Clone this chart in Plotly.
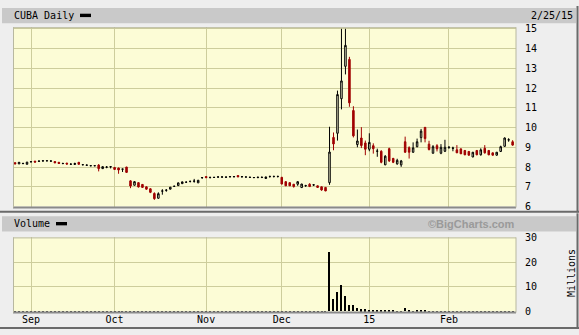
import pandas as pd
import plotly.graph_objects as go

# ---------------- data ----------------
holidays = ["2014-09-01", "2014-11-27", "2014-12-25", "2015-01-01", "2015-01-19", "2015-02-16"]
dates = [d.strftime("%Y-%m-%d") for d in pd.bdate_range("2014-08-26", "2015-02-25")
         if d.strftime("%Y-%m-%d") not in holidays]

open_ = [8.22, 8.16, 8.17, 8.14, 8.26, 8.30, 8.29, 8.31, 8.31, 8.30,
         8.28, 8.24, 8.17, 8.20, 8.14, 8.13, 8.24, 8.11, 8.09, 8.06,
         8.06, 8.10, 7.92, 7.99, 8.01, 7.98, 7.95, 7.89, 8.00, 7.30,
         7.08, 7.21, 7.12, 7.00, 6.90, 6.66, 6.42, 6.78, 6.82, 6.88,
         7.02, 7.06, 7.16, 7.23, 7.27, 7.28, 7.20, 7.46, 7.52, 7.47,
         7.47, 7.49, 7.49, 7.48, 7.51, 7.51, 7.57, 7.51, 7.49, 7.47,
         7.46, 7.46, 7.47, 7.42, 7.52, 7.52, 7.52, 7.48, 7.26, 7.21,
         7.13, 7.13, 6.96, 7.05, 7.13, 7.09, 7.05, 7.00, 6.97, 7.21,
         9.50, 9.71, 11.46, 13.10, 13.45, 10.86, 9.14, 9.47, 9.22, 8.90,
         9.08, 8.80, 8.80, 8.11, 8.93, 8.44, 8.16, 8.11, 9.28, 8.98,
         8.75, 9.03, 9.49, 10.01, 9.16, 8.70, 9.08, 8.70, 8.80, 9.00,
         8.95, 8.87, 8.92, 8.84, 8.79, 8.51, 8.84, 8.62, 8.95, 8.84,
         8.72, 8.60, 8.79, 9.05, 9.37, 9.28]
high = [8.24, 8.25, 8.22, 8.26, 8.28, 8.31, 8.33, 8.32, 8.32, 8.31,
        8.29, 8.25, 8.22, 8.21, 8.18, 8.22, 8.25, 8.12, 8.12, 8.07,
        8.07, 8.15, 8.03, 8.05, 8.02, 7.99, 7.97, 7.90, 8.01, 7.33,
        7.28, 7.23, 7.14, 7.02, 6.92, 6.72, 6.72, 6.88, 6.88, 6.99,
        7.04, 7.21, 7.26, 7.25, 7.28, 7.40, 7.35, 7.47, 7.53, 7.48,
        7.48, 7.53, 7.53, 7.53, 7.52, 7.52, 7.58, 7.52, 7.50, 7.52,
        7.47, 7.52, 7.52, 7.51, 7.53, 7.53, 7.53, 7.50, 7.27, 7.22,
        7.14, 7.27, 7.15, 7.10, 7.18, 7.14, 7.06, 7.01, 6.98, 10.04,
        9.75, 11.87, 15.00, 15.00, 13.58, 11.08, 9.90, 10.02, 9.34, 9.71,
        9.20, 8.93, 8.85, 8.60, 8.98, 8.46, 8.42, 8.36, 9.54, 9.05,
        9.25, 9.44, 9.93, 10.02, 9.33, 9.11, 9.16, 9.16, 9.38, 9.01,
        9.03, 9.11, 8.93, 8.85, 8.80, 8.76, 8.85, 8.95, 9.11, 8.85,
        8.73, 8.76, 9.08, 9.50, 9.46, 9.36]
low = [8.14, 8.15, 8.17, 8.13, 8.25, 8.24, 8.27, 8.27, 8.30, 8.26,
       8.20, 8.17, 8.16, 8.14, 8.11, 8.11, 8.13, 8.10, 8.06, 8.05,
       8.05, 7.78, 7.91, 7.94, 7.93, 7.87, 7.66, 7.75, 7.72, 6.93,
       7.06, 6.97, 6.95, 6.85, 6.68, 6.34, 6.40, 6.60, 6.75, 6.87,
       7.00, 7.05, 7.15, 7.20, 7.22, 7.21, 7.19, 7.40, 7.45, 7.42,
       7.46, 7.46, 7.46, 7.47, 7.46, 7.47, 7.49, 7.45, 7.48, 7.46,
       7.45, 7.45, 7.44, 7.41, 7.46, 7.47, 7.47, 7.13, 7.04, 7.04,
       6.96, 7.05, 6.95, 7.00, 7.00, 7.04, 6.96, 6.80, 6.78, 7.10,
       8.85, 9.34, 10.92, 12.69, 11.05, 9.50, 9.00, 8.96, 8.60, 8.80,
       8.68, 8.52, 8.19, 8.10, 8.26, 8.20, 8.12, 8.01, 8.72, 8.43,
       8.72, 9.00, 9.25, 9.25, 8.84, 8.68, 8.79, 8.65, 8.76, 8.92,
       8.80, 8.71, 8.66, 8.60, 8.58, 8.50, 8.60, 8.58, 8.68, 8.60,
       8.58, 8.58, 8.76, 9.03, 9.28, 9.08]
close = [8.16, 8.24, 8.18, 8.25, 8.27, 8.25, 8.30, 8.32, 8.32, 8.31,
         8.21, 8.18, 8.18, 8.15, 8.15, 8.18, 8.14, 8.12, 8.10, 8.07,
         8.07, 7.92, 8.02, 8.00, 8.02, 7.88, 7.85, 7.90, 7.73, 7.04,
         7.26, 6.99, 6.97, 6.88, 6.72, 6.40, 6.65, 6.79, 6.83, 6.98,
         7.03, 7.20, 7.25, 7.24, 7.28, 7.29, 7.33, 7.47, 7.46, 7.48,
         7.48, 7.50, 7.50, 7.49, 7.52, 7.52, 7.50, 7.52, 7.50, 7.48,
         7.47, 7.48, 7.48, 7.50, 7.53, 7.53, 7.53, 7.14, 7.05, 7.05,
         7.01, 7.26, 7.14, 7.06, 7.01, 7.10, 6.97, 6.84, 6.79, 8.76,
         9.17, 11.67, 12.36, 14.16, 11.25, 9.58, 9.32, 9.09, 8.90, 9.25,
         8.93, 8.81, 8.24, 8.55, 8.31, 8.24, 8.34, 8.31, 8.75, 8.75,
         8.97, 9.28, 9.82, 9.44, 8.89, 9.03, 8.92, 9.00, 9.00, 9.01,
         8.96, 8.72, 8.67, 8.62, 8.60, 8.75, 8.62, 8.87, 8.72, 8.62,
         8.60, 8.75, 9.03, 9.47, 9.38, 9.11]
volume_m = [0.03, 0.03, 0.03, 0.03, 0.03, 0.03, 0.03, 0.03, 0.03, 0.03,
            0.03, 0.03, 0.03, 0.03, 0.03, 0.03, 0.03, 0.03, 0.03, 0.03,
            0.03, 0.03, 0.03, 0.03, 0.03, 0.03, 0.03, 0.03, 0.03, 0.03,
            0.03, 0.03, 0.03, 0.03, 0.03, 0.03, 0.03, 0.03, 0.03, 0.03,
            0.03, 0.03, 0.03, 0.03, 0.03, 0.03, 0.03, 0.03, 0.03, 0.03,
            0.03, 0.03, 0.03, 0.03, 0.03, 0.03, 0.03, 0.03, 0.03, 0.03,
            0.03, 0.03, 0.03, 0.03, 0.03, 0.03, 0.03, 0.03, 0.03, 0.03,
            0.03, 0.03, 0.03, 0.03, 0.03, 0.03, 0.03, 0.03, 0.03, 24.0,
            4.9, 7.6, 10.8, 6.2, 2.4, 2.4, 1.4, 0.8, 0.8, 0.6,
            0.4, 0.4, 0.4, 0.4, 0.4, 0.4, 0.05, 0.05, 1.4, 0.4,
            0.05, 0.5, 0.5, 0.3, 0.05, 0.05, 0.05, 0.05, 0.05, 0.05,
            0.05, 0.05, 0.05, 0.05, 0.05, 0.05, 0.05, 0.05, 0.05, 0.05,
            0.05, 0.05, 0.05, 0.05, 0.05, 0.05]

month_ticks = ["2014-09-02", "2014-10-01", "2014-11-03", "2014-12-01", "2015-01-02", "2015-02-02"]
month_labels = ["Sep", "Oct", "Nov", "Dec", "15", "Feb"]
price_ticks = [6, 7, 8, 9, 10, 11, 12, 13, 14, 15]
vol_ticks = [0, 10, 20, 30]

# ---------------- style ----------------
W, H = 579, 335
BG = "#eeeeee"
PLOT_BG = "#fcfcd6"
GRID = "#cdcd9c"
RED = "#a00000"
MONO = "DejaVu Sans Mono"

def px(x):
    return x / W

def py(y):
    return 1 - y / H

fig = go.Figure()
fig.add_trace(go.Candlestick(
    x=dates, open=open_, high=high, low=low, close=close,
    xaxis="x", yaxis="y",
    increasing=dict(line=dict(color="black", width=1), fillcolor=PLOT_BG),
    decreasing=dict(line=dict(color=RED, width=1), fillcolor=RED),
    whiskerwidth=0, hoverinfo="skip", showlegend=False,
))
fig.add_trace(go.Bar(
    x=dates, y=volume_m, xaxis="x2", yaxis="y2",
    marker=dict(color="black", line=dict(width=0)), width=0.28,
    hoverinfo="skip", showlegend=False,
))

xrange = [-0.27, len(dates) - 1 + 0.85]
xl, xr = px(14), px(516)
common_x = dict(type="category", range=xrange, domain=[xl, xr], tickmode="array",
                tickvals=month_ticks, showgrid=True, gridcolor=GRID, gridwidth=1,
                zeroline=False, showline=False, ticks="", fixedrange=True)
fig.update_layout(
    width=W, height=H, margin=dict(l=0, r=0, t=0, b=0),
    paper_bgcolor=BG, plot_bgcolor=PLOT_BG, boxgap=0.45,
    bargap=0,
    xaxis=dict(**common_x, anchor="y", showticklabels=False,
               rangeslider=dict(visible=False)),
    xaxis2=dict(**common_x, anchor="y2", ticktext=month_labels, showticklabels=True,
                tickfont=dict(family=MONO, size=10, color="black")),
    yaxis=dict(domain=[py(208), py(22)], range=[6, 15.08], side="right", anchor="x",
               tickmode="array", tickvals=price_ticks, showgrid=True, gridcolor=GRID,
               zeroline=False, ticks="outside", ticklen=6, tickcolor="rgba(0,0,0,0)",
               tickfont=dict(family=MONO, size=10, color="black"), fixedrange=True),
    yaxis2=dict(domain=[py(317), py(240)], range=[0, 30], side="right", anchor="x2",
                tickmode="array", tickvals=vol_ticks, showgrid=True, gridcolor=GRID,
                zeroline=False, ticks="outside", ticklen=6, tickcolor="rgba(0,0,0,0)",
                tickfont=dict(family=MONO, size=10, color="black"), fixedrange=True),
)

shapes = []
def rect(x0, y0, x1, y1, fill, line=None, layer="below"):
    shapes.append(dict(type="rect", xref="paper", yref="paper",
                       x0=px(x0), x1=px(x1), y0=py(y1), y1=py(y0),
                       fillcolor=fill, line=dict(width=0) if line is None else line,
                       layer=layer))

def hline(x0, x1, y, color, w=1, layer="above"):
    shapes.append(dict(type="line", xref="paper", yref="paper", x0=px(x0), x1=px(x1),
                       y0=py(y), y1=py(y), line=dict(color=color, width=w), layer=layer))

def vline(x, y0, y1, color, w=1, layer="above"):
    shapes.append(dict(type="line", xref="paper", yref="paper", x0=px(x), x1=px(x),
                       y0=py(y0), y1=py(y1), line=dict(color=color, width=w), layer=layer))

# header bars
rect(2, 2, 576, 18, "#c9c9c9")
rect(2, 218, 576, 234, "#c9c9c9")
# legend swatches
rect(80, 8, 91, 11.5, "black", layer="above")
rect(56, 224, 67, 227.5, "black", layer="above")
# plot bottom heavy lines
hline(13, 516, 209, "#8a8a8a", 2)
hline(13, 516, 318, "#8a8a8a", 2)
# plot left/top thin border
vline(13.5, 22, 209, "#b8b8a0")
hline(13, 516, 22.5, "#b8b8a0")
vline(13.5, 240, 318, "#b8b8a0")
hline(13, 516, 240.5, "#b8b8a0")
vline(516, 22, 209, "#b8b8a0")
vline(516, 240, 318, "#b8b8a0")
# outer frames (3D effect)
vline(577.5, 0, 214, "#6a6a6a", 2)
hline(0, 579, 213.5, "#6a6a6a", 2)
vline(577.5, 215, 335, "#6a6a6a", 2)
hline(0, 579, 334, "#6a6a6a", 2)
fig.update_layout(shapes=shapes)

ann = []
def text(x, y, s, anchor="left", size=10, color="black", family=MONO, angle=0, bold=False):
    ann.append(dict(xref="paper", yref="paper", x=px(x), y=py(y), text=("<b>%s</b>" % s) if bold else s,
                    showarrow=False, xanchor=anchor, yanchor="middle", textangle=angle,
                    font=dict(family=family, size=size, color=color)))

text(12, 10, "CUBA Daily")
text(575, 10, "2/25/15", anchor="right")
text(12, 226, "Volume")
text(517, 226, "©BigCharts.com", anchor="right", size=11, color="#9a9a9a",
     family="Liberation Sans", bold=True)
text(571, 277, "Millions", anchor="center", angle=-90)
fig.update_layout(annotations=ann)

fig.write_html("out.html")
